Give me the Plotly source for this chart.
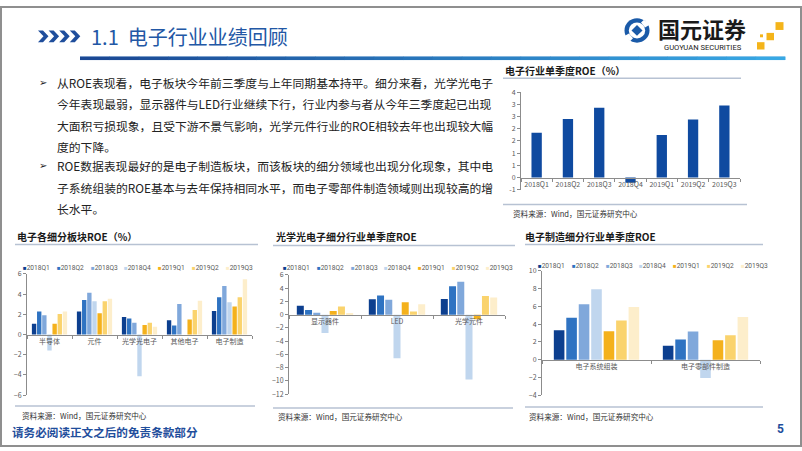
import plotly.graph_objects as go

W, H = 802, 451


def px(x):
    return x / W


def py(y):
    return 1 - y / H


# ---------------- data ----------------
quarters = ["2018Q1", "2018Q2", "2018Q3", "2018Q4", "2019Q1", "2019Q2", "2019Q3"]
quarter_colors = ["#0c3f8f", "#2f73c2", "#80a8db", "#c0d6ee", "#f4b11c", "#fad36d", "#fdeecb"]

# 电子行业单季度ROE (%)
overall_roe = [1.83, 2.40, 2.86, -0.21, 1.74, 2.38, 2.95]
overall_tickvals = [-0.5, 0, 0.5, 1, 1.5, 2, 2.5, 3, 3.5]
overall_ticktext = ["-1", "0", "1", "1", "2", "2", "3", "3", "4"]

# 电子各细分板块ROE (%)
sector_cats = ["半导体", "元件", "光学光电子", "其他电子", "电子制造"]
sector_18q1 = [1.06, 2.29, 1.74, 1.42, 2.32]
sector_18q2 = [2.29, 3.42, 1.58, 0.90, 3.68]
sector_18q3 = [1.90, 4.13, 1.16, 3.03, 4.81]
sector_18q4 = [-1.58, 3.29, -4.13, None, 3.19]
sector_19q1 = [1.06, 2.10, 0.94, 1.48, 2.77]
sector_19q2 = [2.03, 3.29, 1.16, 2.42, 3.68]
sector_19q3 = [2.29, 3.55, 0.77, 3.35, 5.48]

# 光学光电子细分行业单季度ROE
optics_cats = ["显示器件", "LED", "光学元件"]
optics_18q1 = [1.33, 2.31, 2.36]
optics_18q2 = [0.69, 2.90, 4.28]
optics_18q3 = [0.30, 2.26, 4.97]
optics_18q4 = [-2.75, -6.59, -9.79]
optics_19q1 = [0.54, 1.87, -0.69]
optics_19q2 = [1.23, 0.49, 2.80]
optics_19q3 = [0.15, 1.57, 2.60]

# 电子制造细分行业单季度ROE
mfg_cats = ["电子系统组装", "电子零部件制造"]
mfg_18q1 = [3.33, 1.58]
mfg_18q2 = [4.73, 2.27]
mfg_18q3 = [6.26, 3.19]
mfg_18q4 = [7.95, -2.05]
mfg_19q1 = [3.22, 2.20]
mfg_19q2 = [4.43, 2.75]
mfg_19q3 = [5.93, 4.80]

sector_series = [sector_18q1, sector_18q2, sector_18q3, sector_18q4, sector_19q1, sector_19q2, sector_19q3]
optics_series = [optics_18q1, optics_18q2, optics_18q3, optics_18q4, optics_19q1, optics_19q2, optics_19q3]
mfg_series = [mfg_18q1, mfg_18q2, mfg_18q3, mfg_18q4, mfg_19q1, mfg_19q2, mfg_19q3]

# ---------------- styling ----------------
FONT = "Noto Sans CJK SC"
TICKFONT = dict(family=FONT, size=7, color="#595959")
AXCOLOR = "#8c8c8c"
BLUE = "#1f4e9c"

fig = go.Figure()

charts = [
    dict(cats=quarters, series=None, x0=521, x1=740, ytop=88, ybot=188, yrange=[-0.5, 3.5]),
    dict(cats=sector_cats, series=sector_series, x0=27, x1=252, ytop=274, ybot=398, yrange=[-6, 6]),
    dict(cats=optics_cats, series=optics_series, x0=289, x1=505, ytop=275, ybot=397, yrange=[-12, 6]),
    dict(cats=mfg_cats, series=mfg_series, x0=542, x1=760, ytop=271, ybot=398, yrange=[-4, 10]),
]

layout_axes = {}
for i, c in enumerate(charts, start=1):
    sx = "" if i == 1 else str(i)
    xname, yname = "x" + sx, "y" + sx
    xd = [px(c["x0"]), px(c["x1"])]
    yd = [py(c["ybot"]), py(c["ytop"])]
    lo, hi = c["yrange"]
    zero_pos = yd[0] + (0 - lo) / (hi - lo) * (yd[1] - yd[0])

    if c["series"] is None:
        fig.add_trace(go.Bar(x=c["cats"], y=overall_roe, marker=dict(color="#0f4aa0", line=dict(width=0)),
                             width=0.33, xaxis=xname, yaxis=yname, showlegend=False))
        ytick = dict(tickmode="array", tickvals=overall_tickvals, ticktext=overall_ticktext)
    else:
        for q, col, vals in zip(quarters, quarter_colors, c["series"]):
            fig.add_trace(go.Bar(x=c["cats"], y=vals, name=q, marker=dict(color=col, line=dict(width=0)),
                                 xaxis=xname, yaxis=yname, showlegend=False))
        ytick = dict(tickmode="linear", tick0=0, dtick=2)

    layout_axes["xaxis" + sx] = dict(
        domain=xd, anchor="free", position=zero_pos, type="category",
        showline=True, linecolor=AXCOLOR, linewidth=1,
        ticks="outside", tickson="boundaries", ticklen=3, tickcolor=AXCOLOR,
        tickfont=TICKFONT, tickangle=0, showgrid=False, zeroline=False, fixedrange=True,
    )
    layout_axes["yaxis" + sx] = dict(
        domain=yd, anchor=xname, range=c["yrange"],
        showline=True, linecolor=AXCOLOR, linewidth=1,
        ticks="outside", ticklen=3, tickcolor=AXCOLOR,
        tickfont=TICKFONT, showgrid=False, zeroline=False, fixedrange=True, **ytick,
    )

# full-page overlay axis pair (pixel units) used only for the header gradient rule
layout_axes["xaxis5"] = dict(domain=[0, 1], range=[0, W], visible=False, fixedrange=True)
layout_axes["yaxis5"] = dict(domain=[0, 1], range=[H, 0], visible=False, fixedrange=True, anchor="x5")
n_seg = 24
grad_start = (27, 72, 148)
grad_end = (56, 168, 228)
seg_w = 705 / n_seg
for k in range(n_seg):
    frac = k / (n_seg - 1)
    rgb = [int(grad_start[j] + (grad_end[j] - grad_start[j]) * frac) for j in range(3)]
    seg_col = "#%02x%02x%02x" % (rgb[0], rgb[1], rgb[2])
    xa = 80 + k * seg_w
    fig.add_trace(go.Scatter(x=[xa, xa + seg_w + 0.5], y=[53.5, 53.5], mode="lines",
                             line=dict(color=seg_col, width=3.5), xaxis="x5", yaxis="y5",
                             showlegend=False, hoverinfo="skip"))

shapes = []
annotations = []


def line(x0, y0, x1, y1, color="#b7c2d3", width=1.5):
    shapes.append(dict(type="line", xref="paper", yref="paper", x0=px(x0), y0=py(y0), x1=px(x1), y1=py(y1),
                       line=dict(color=color, width=width)))


def rect(x0, y0, x1, y1, fill, layer="above"):
    shapes.append(dict(type="rect", xref="paper", yref="paper", x0=px(x0), y0=py(y0), x1=px(x1), y1=py(y1),
                       fillcolor=fill, line=dict(width=0), layer=layer))


def text(x, y, s, size, color="#1a1a1a", anchor="left", family=FONT):
    annotations.append(dict(xref="paper", yref="paper", x=px(x), y=py(y), text=s, showarrow=False,
                            xanchor=anchor, yanchor="middle", font=dict(family=family, size=size, color=color)))


def path(points, fill):
    d = "M " + " L ".join(f"{px(a):.5f},{py(b):.5f}" for a, b in points) + " Z"
    shapes.append(dict(type="path", xref="paper", yref="paper", path=d, fillcolor=fill, line=dict(width=0)))


# ---------------- header ----------------
# solid fallback under the gradient segments
rect(80, 52, 785, 55, "#2a78c4", layer="below")
for k in range(4):
    x0 = 38 + k * 10.6
    path([(x0, 25), (x0 + 5, 25), (x0 + 10.5, 31), (x0 + 5, 37), (x0, 37), (x0 + 5.5, 31)], BLUE)
text(89, 31, "1.1  电子行业业绩回顾", 20, "#2257a5")

# logo
shapes.append(dict(type="circle", xref="paper", yref="paper", x0=px(624.5), x1=px(649.5), y0=py(37.5), y1=py(12.5),
                   fillcolor="#1a5aa8", line=dict(width=0)))
shapes.append(dict(type="circle", xref="paper", yref="paper", x0=px(628.8), x1=px(645.2), y0=py(33.2), y1=py(16.8),
                   fillcolor="white", line=dict(width=0)))
path([(637, 19.5), (642.5, 25), (637, 30.5), (631.5, 25)], "#1a5aa8")
path([(644, 14), (650, 19), (645, 22), (641, 17)], "white")
path([(630, 36), (624, 31), (629, 28), (633, 33)], "white")
text(702, 23, "<b>国元证券</b>", 22, "#1a1a1a", "center")
text(703, 42, "GUOYUAN SECURITIES", 7.6, "#222222", "center", "Roboto")
rect(775.5, 16.5, 783.5, 24.5, "#f4b41a")
rect(766.5, 27.5, 774, 35, "#f4b41a")
rect(757, 37, 764.5, 44.5, "#f4b41a")
rect(760, 29, 763, 32, "#f4b41a")

# ---------------- body text ----------------
body_lines = [
    "从ROE表现看，电子板块今年前三季度与上年同期基本持平。细分来看，光学光电子",
    "今年表现最弱，显示器件与LED行业继续下行，行业内参与者从今年三季度起已出现",
    "大面积亏损现象，且受下游不景气影响，光学元件行业的ROE相较去年也出现较大幅",
    "度的下降。",
    "ROE数据表现最好的是电子制造板块，而该板块的细分领域也出现分化现象，其中电",
    "子系统组装的ROE基本与去年保持相同水平，而电子零部件制造领域则出现较高的增",
    "长水平。",
]
ys = [78, 100, 122.5, 144, 163.5, 185.5, 207.5]
for s, y in zip(body_lines, ys):
    text(55, y, s, 11.8, "#222222")
for y in (ys[0], ys[4]):
    text(37, y, "➢", 10, "#222222", "left", "DejaVu Sans")

# ---------------- chart titles, rules, sources ----------------
SRC = "资料来源：Wind，国元证券研究中心"
text(503, 66, "<b>电子行业单季度ROE（%）</b>", 10)
line(503, 74, 741, 74)
line(503, 203, 747, 203)
text(511, 212.5, SRC, 7.6, "#333333")

text(15, 236, "<b>电子各细分板块ROE（%）</b>", 10)
line(15, 244, 258, 244)
line(15, 409, 255, 409)
text(20, 419, SRC, 7.6, "#333333")

text(274, 236, "<b>光学光电子细分行业单季度ROE</b>", 10)
line(273, 245, 515, 245)
line(273, 411, 513, 411)
text(276, 419.5, SRC, 7.6, "#333333")

text(523, 236, "<b>电子制造细分行业单季度ROE</b>", 10)
line(525, 244, 763, 244)
line(525, 410, 763, 410)
text(527, 419.5, SRC, 7.6, "#333333")

# legends (one row per bottom chart)
for lx, ly in ((21, 268), (281, 268), (536, 266)):
    for k, (q, col) in enumerate(zip(quarters, quarter_colors)):
        s = f"<span style='color:{col};font-size:6px'>■</span>{q}"
        text(lx + k * 33.8, ly, s, 6.6, "#595959", "left", "Roboto")

# ---------------- footer ----------------
text(10, 436, "<b>请务必阅读正文之后的免责条款部分</b>", 11.6, BLUE)
text(780, 433, "<b>5</b>", 12, BLUE, "center", "Roboto")

# slide frame
shapes.append(dict(type="rect", xref="paper", yref="paper", x0=px(1), y0=py(450), x1=px(801), y1=py(1),
                   line=dict(color="#8f8f8f", width=2)))

fig.update_layout(
    width=W, height=H, autosize=False,
    margin=dict(l=0, r=0, t=0, b=0),
    paper_bgcolor="white", plot_bgcolor="rgba(0,0,0,0)",
    barmode="group", bargap=0.2, bargroupgap=0.15,
    showlegend=False,
    shapes=shapes, annotations=annotations,
    font=dict(family=FONT),
    **layout_axes,
)

fig.write_html(
    "out.html",
    config={"displayModeBar": False},
    post_script="document.body.style.margin='0';document.body.style.overflow='hidden';",
)
